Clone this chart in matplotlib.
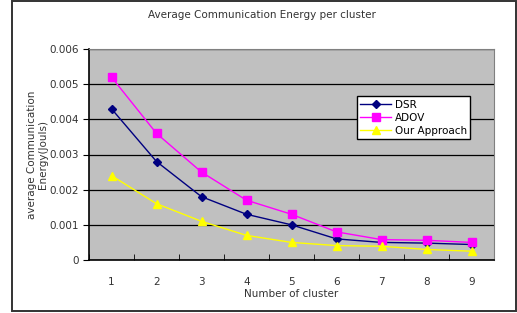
import numpy as np
import matplotlib.pyplot as plt
from matplotlib.patches import Rectangle

clusters = [1, 2, 3, 4, 5, 6, 7, 8, 9]
dsr = [0.0043, 0.0028, 0.0018, 0.0013, 0.0010, 0.0006, 0.0005, 0.00048, 0.00044]
adov = [0.0052, 0.0036, 0.0025, 0.0017, 0.0013, 0.0008, 0.00058, 0.00056, 0.0005]
ours = [0.0024, 0.0016, 0.0011, 0.0007, 0.0005, 0.00041, 0.00039, 0.0003, 0.00025]

fig = plt.figure(figsize=(5.17, 3.13), dpi=100)
ax = fig.add_axes([89 / 517, 1 - 260 / 313, 405 / 517, 211 / 313])
ax.set_facecolor('#c0c0c0')

# outer chart frame
fig.patches.append(Rectangle((11.5 / 517, 1 - 311 / 313), 504 / 517, 310 / 313,
                             transform=fig.transFigure, fill=False,
                             edgecolor='#333333', linewidth=1.4))

x = np.arange(len(clusters))
ax.plot(x, dsr, color='#000080', marker='D', markersize=4, linewidth=1, label='DSR')
ax.plot(x, adov, color='#ff00ff', marker='s', markersize=6, linewidth=1, label='ADOV')
ax.plot(x, ours, color='#ffff00', marker='^', markersize=6, linewidth=1, label='Our Approach')

ax.set_xlim(-0.5, len(clusters) - 0.5)
ax.set_ylim(0, 0.006)
ax.set_yticks(np.arange(0, 0.0061, 0.001))
ax.set_yticklabels(['0', '0.001', '0.002', '0.003', '0.004', '0.005', '0.006'])
ax.set_xticks(x)
ax.set_xticklabels([str(c) for c in clusters])
ax.set_xticks(np.arange(-0.5, len(clusters), 1), minor=True)
ax.tick_params(axis='x', which='major', length=0, pad=12)
ax.tick_params(axis='x', which='minor', length=4, direction='in', color='black')
ax.tick_params(axis='y', length=4, direction='out')
ax.tick_params(labelsize=7.5, labelcolor='#333333')
ax.grid(axis='y', color='black', linewidth=0.9)
ax.set_axisbelow(True)

for s in ['top', 'right']:
    ax.spines[s].set_color('#808080')
for s in ['left', 'bottom']:
    ax.spines[s].set_color('black')
    ax.spines[s].set_linewidth(1.2)

fig.text(262 / 517, 1 - 15 / 313, 'Average Communication Energy per cluster',
         fontsize=7.5, color='#333333', ha='center', va='center')
ax.set_xlabel('Number of cluster', fontsize=7.5, color='#333333', labelpad=2)
ax.set_ylabel('average Communication\nEnergy(Jouls)', fontsize=7.5,
              color='#333333', labelpad=0.5)

leg = ax.legend(loc='upper left', bbox_to_anchor=(0.662, 0.775), fontsize=7.5,
                frameon=True, fancybox=False, framealpha=1, edgecolor='black',
                borderpad=0.3, labelspacing=0.3, handlelength=3,
                handletextpad=0.3, borderaxespad=0)
leg.get_frame().set_linewidth(1)

fig.savefig('out.png', dpi=100)
